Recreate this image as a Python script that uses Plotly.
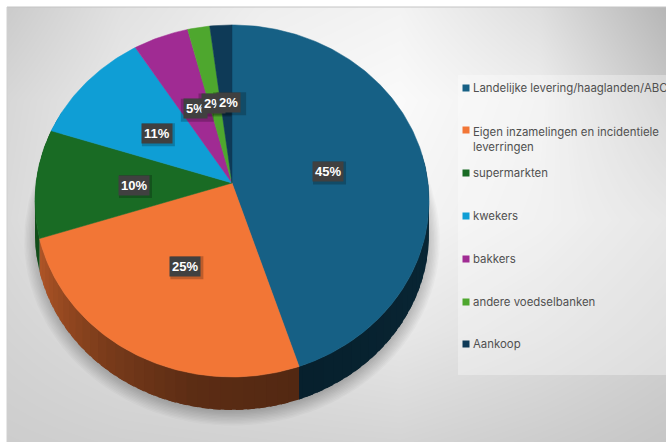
import numpy as np
import plotly.graph_objects as go

categories = ["Landelijke levering/haaglanden/ABC",
              "Eigen inzamelingen en incidentiele<br>leverringen",
              "supermarkten", "kwekers", "bakkers", "andere voedselbanken", "Aankoop"]
values = [45, 25, 10, 11, 5, 2, 2]
colors = ["#166085", "#F27636", "#196B24", "#0F9ED5", "#A02B93", "#4EA72E", "#0E3A57"]

# background grey levels
bg_x = [7, 120, 260, 400, 540, 666]
bg_y = [7, 100, 220, 330, 442]
bg_z = [[203, 225, 238, 243, 222, 182],
        [215, 232, 245, 250, 238, 200],
        [218, 235, 240, 245, 235, 220],
        [212, 220, 225, 232, 222, 210],
        [205, 208, 210, 212, 205, 198]]

legend_y = [88, 130, 173, 216, 259, 302, 344]
legend_text_y = [88, 139.5, 173, 216, 259, 302, 344]
label_dx = [0, 0, 0, 0, 1, -1, 2]

CX, CY, B, A, K, DEPTH = 232.0, 183.0, 196.0, 174.2, 0.102, 33.0


def project(theta, r=1.0, dy=0.0, s=1.0):
    """Tilted disc: theta in degrees clockwise from the top."""
    t = np.radians(theta)
    u, v = r * np.sin(t), r * np.cos(t)
    d = 1 + K * v
    return CX + s * B * u / d, CY + dy - s * A * v / d


def shade(hex_color, f):
    rgb = [int(hex_color[i:i + 2], 16) for i in (1, 3, 5)]
    return "rgb(%d,%d,%d)" % tuple(int(c * f) for c in rgb)


fig = go.Figure()
fig.add_trace(go.Heatmap(x=bg_x, y=bg_y, z=bg_z, zsmooth="best", zmin=0, zmax=255,
                         colorscale=[[0, "#000000"], [1, "#ffffff"]], showscale=False,
                         hoverinfo="skip"))

# legend panel
fig.add_trace(go.Scatter(x=[458, 666, 666, 458, 458], y=[75, 75, 375, 375, 75], mode="lines",
                         fill="toself", fillcolor="rgba(255,255,255,0.32)", line=dict(width=0),
                         hoverinfo="skip", showlegend=False))

# soft shadow
th = np.linspace(0, 360, 181)
for s in np.linspace(0.975, 1.055, 12):
    x, y = project(th, dy=38, s=s)
    fig.add_trace(go.Scatter(x=x, y=y, mode="lines", fill="toself", line=dict(width=0),
                             fillcolor="rgba(0,0,0,0.022)", hoverinfo="skip", showlegend=False))

edges = np.cumsum([0] + values) / sum(values) * 360

# side wall, in overlapping strips so that no seams show
for i, col in enumerate(colors):
    a0, a1 = edges[i], edges[i + 1]
    lo, hi = max(a0, 80), min(a1, 295)
    if hi <= lo:
        continue
    starts = np.arange(lo, hi, 3.0)
    for t0 in starts:
        t1 = min(t0 + 5.0, hi)
        f = np.interp(t0 + 1.5, [80, 160, 190, 215, 250, 295], [0.42, 0.34, 0.38, 0.5, 0.72, 0.75])
        ts = np.linspace(t0, t1, 6)
        xt, yt = project(ts)
        xb, yb = project(ts[::-1], dy=DEPTH)
        fig.add_trace(go.Scatter(x=np.r_[xt, xb], y=np.r_[yt, yb], mode="lines", fill="toself",
                                 fillcolor=shade(col, f), line=dict(width=0),
                                 hoverinfo="skip", showlegend=False))

# top face
for i, (name, col) in enumerate(zip(categories, colors)):
    ts = np.linspace(edges[i], edges[i + 1], max(3, int(values[i] * 4)))
    x, y = project(ts)
    fig.add_trace(go.Scatter(x=np.r_[CX, x, CX], y=np.r_[CY, y, CY], mode="lines", fill="toself",
                             fillcolor=col, line=dict(width=0.5, color=col), name=name,
                             hoverinfo="name", showlegend=False))

# legend swatches
fig.add_trace(go.Scatter(x=[466] * len(colors), y=legend_y, mode="markers",
                         marker=dict(symbol="square", size=7, color=colors, line=dict(width=0)),
                         hoverinfo="skip", showlegend=False))

shapes = [
    dict(type="rect", x0=0, x1=7, y0=0, y1=442, layer="above", line=dict(width=0), fillcolor="white"),
    dict(type="rect", x0=0, x1=666, y0=0, y1=7, layer="above", line=dict(width=0), fillcolor="white"),
    dict(type="line", x0=7, x1=666, y0=7, y1=7, layer="above", line=dict(width=1, color="#c4c4c4")),
    dict(type="line", x0=7, x1=7, y0=7, y1=442, layer="above", line=dict(width=1, color="#d0d0d0")),
]

annotations = []
mids = (edges[:-1] + edges[1:]) / 2
for m, v, dx in zip(mids, values, label_dx):
    lx, ly = project(m, r=0.5)
    lx, ly = lx + dx, ly + 2
    shapes.append(dict(type="rect", x0=lx - 15, x1=lx + 18, y0=ly - 10, y1=ly + 13, layer="above",
                       line=dict(width=0), fillcolor="rgba(0,0,0,0.22)"))
    annotations.append(dict(x=lx, y=ly, xref="x", yref="y", text=f"<b>{v}%</b>", showarrow=False,
                            xanchor="center", yanchor="middle", bgcolor="#404040", borderpad=2,
                            font=dict(family="Liberation Sans", size=13, color="white")))

for name, y in zip(categories, legend_text_y):
    annotations.append(dict(x=470.5, y=y, xref="x", yref="y", text=name, showarrow=False,
                            xanchor="left", yanchor="middle", align="left",
                            font=dict(family="Inter", size=11.4, color="#505050")))

fig.update_layout(
    width=666, height=442, margin=dict(l=0, r=0, t=0, b=0),
    paper_bgcolor="white", plot_bgcolor="white", showlegend=False,
    xaxis=dict(range=[0, 666], visible=False, fixedrange=True),
    yaxis=dict(range=[442, 0], visible=False, fixedrange=True),
    shapes=shapes, annotations=annotations,
)
fig.write_html("out.html", config={"displayModeBar": False},
               post_script="document.body.style.margin='0';")
